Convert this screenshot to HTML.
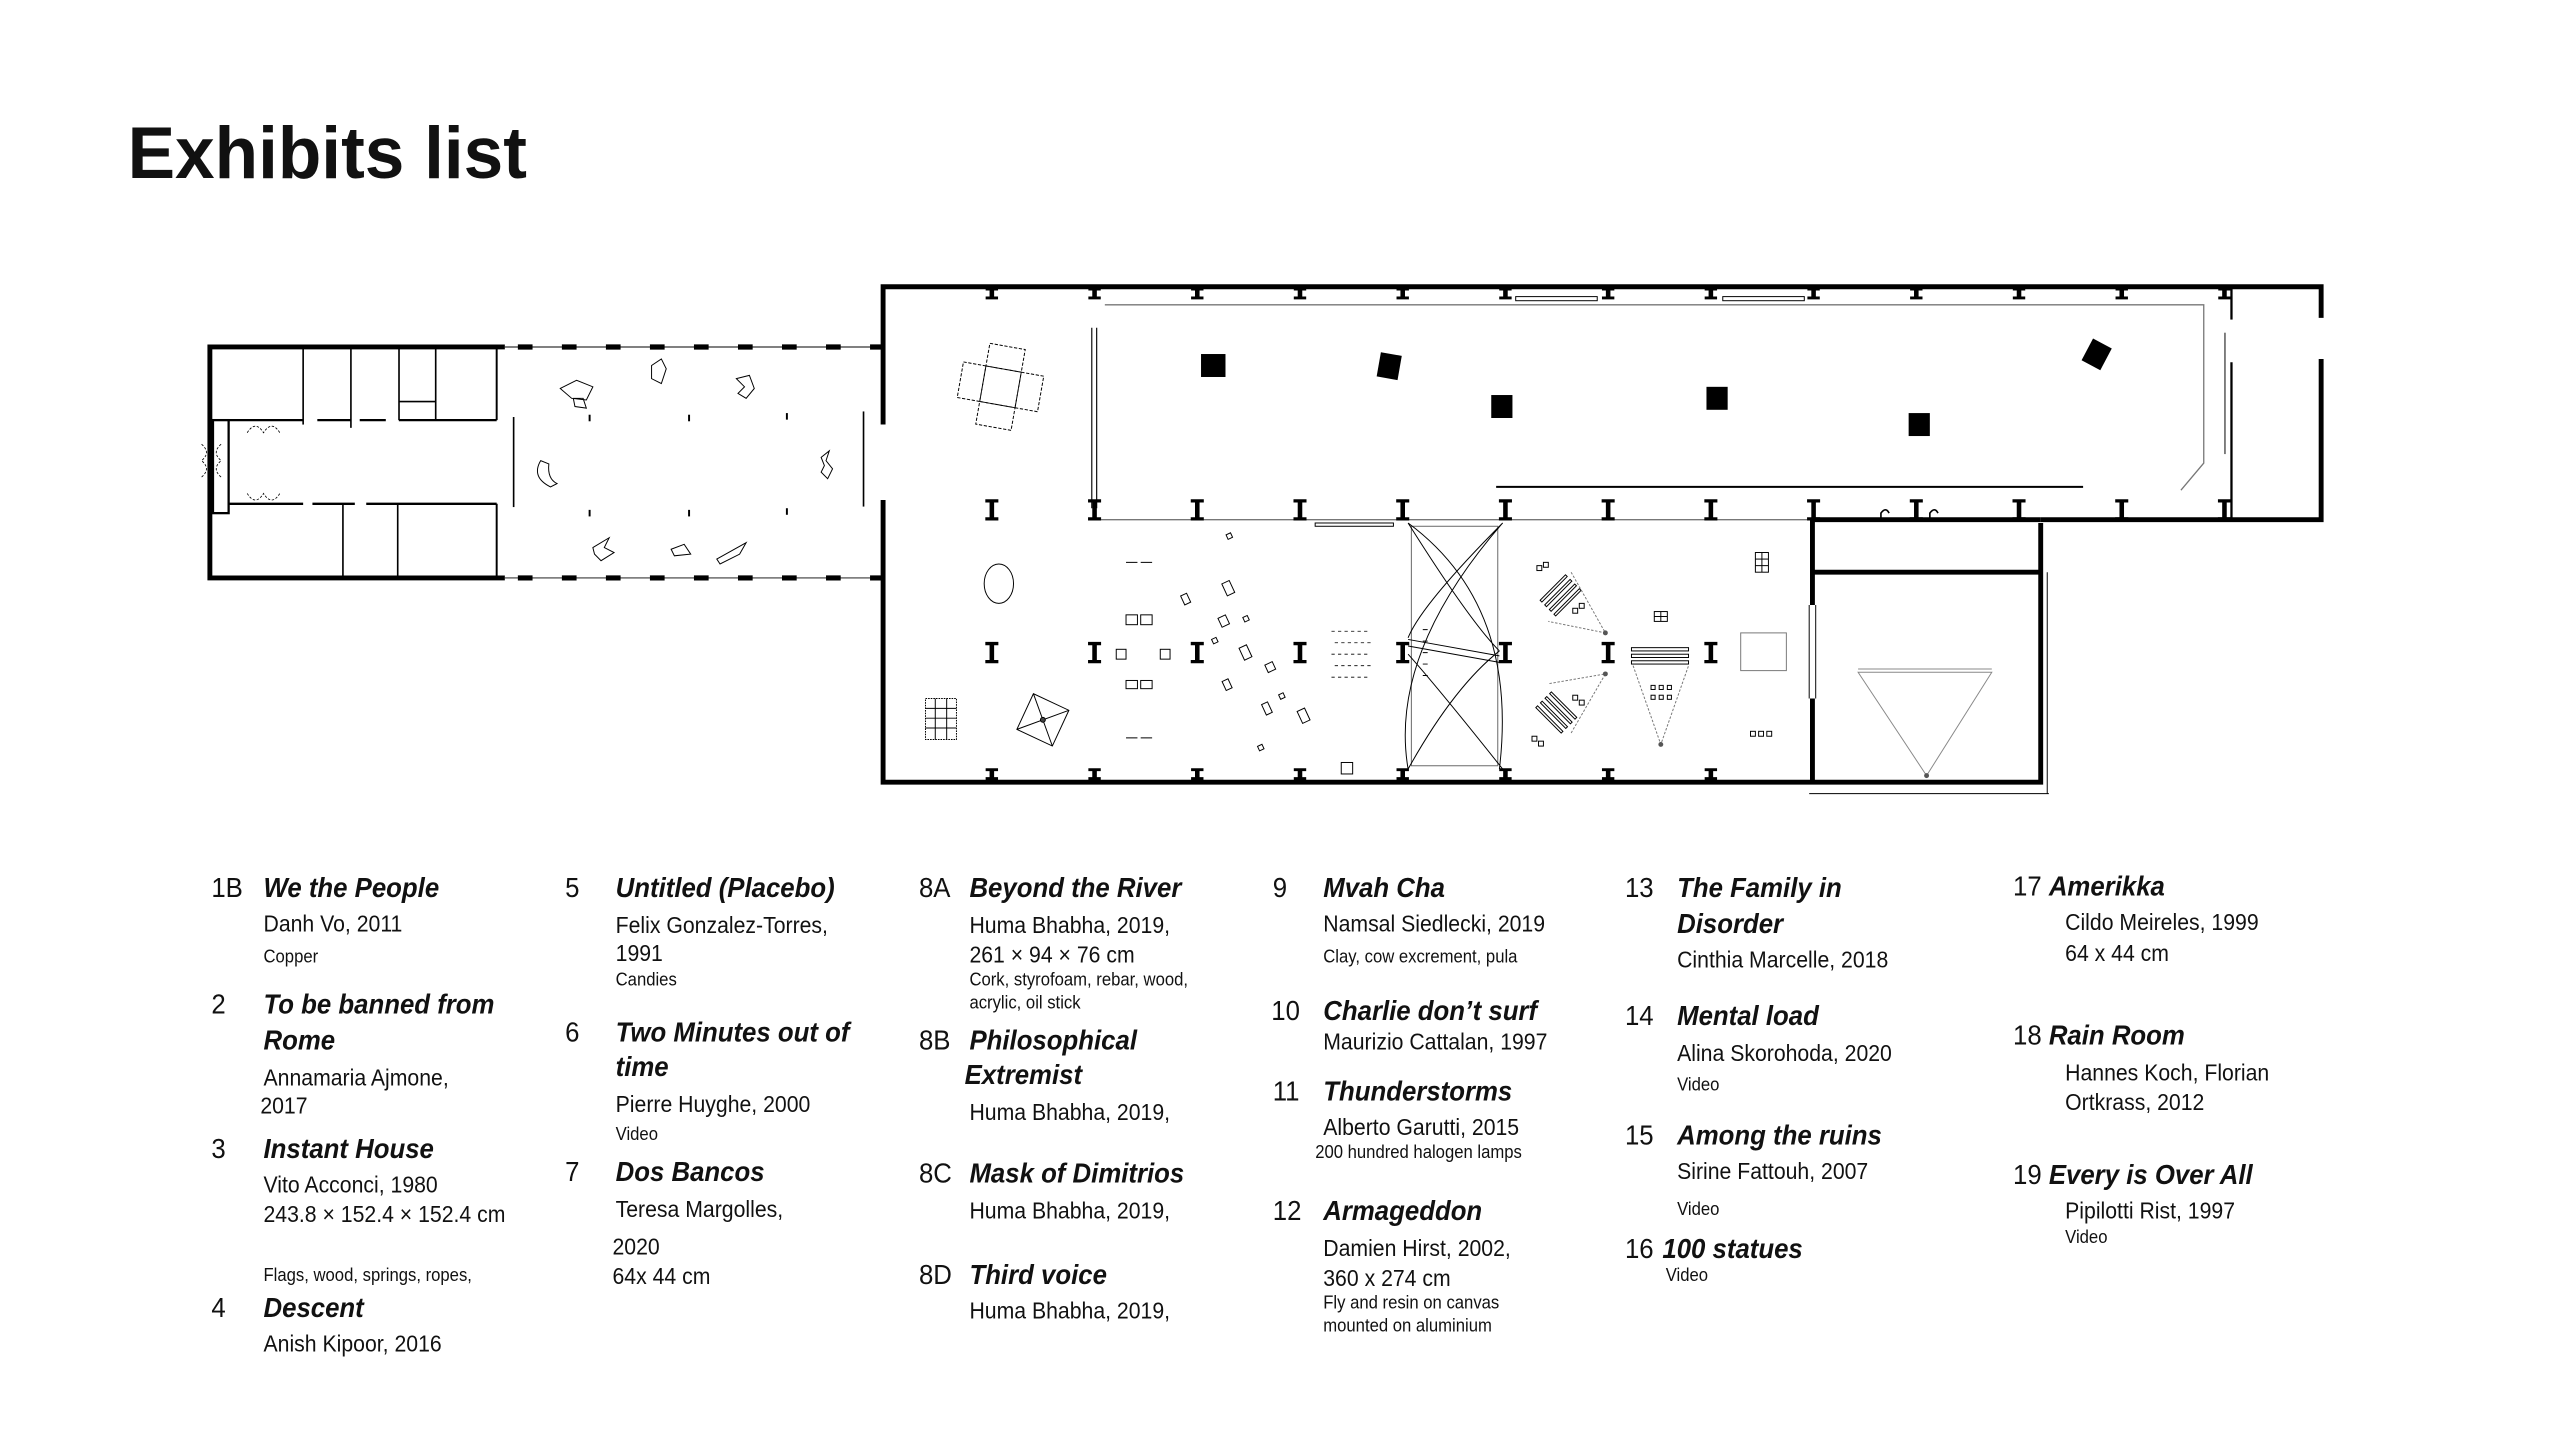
<!DOCTYPE html>
<html><head><meta charset="utf-8">
<style>
html,body{margin:0;padding:0;background:#fff;}
svg{display:block;}
text{font-family:"Liberation Sans",Arial,sans-serif;fill:#111;}
.t{font-weight:bold;font-style:italic;font-size:17px;}
.n{font-size:17px;}
.b{font-size:14px;}
.s{font-size:11px;}
</style></head>
<body>
<svg width="2560" height="1439" viewBox="0 0 1545 868.4" xmlns="http://www.w3.org/2000/svg">
<defs>
<path id="ib" d="M-4,-6.5 h8 v2 h-2.6 v9 h2.6 v2 h-8 v-2 h2.6 v-9 h-2.6 z" fill="#000"/>
<path id="ih" d="M-3.8,-1.5 h7.6 v1.8 h-2.4 v3.6 h2.4 v1.8 h-7.6 v-1.8 h2.4 v-3.6 h-2.4 z" fill="#000"/>
</defs>
<text x="77" y="107.5" font-weight="bold" font-size="44.5" textLength="241" lengthAdjust="spacingAndGlyphs">Exhibits list</text>

<g transform="matrix(0.984 0 0 0.99 1.6 -1.2)">
<!-- LEFT BUILDING -->
<g fill="none" stroke="#000">
<path d="M308,212.7 H127.1 V353.5 H308" stroke-width="3"/>
<line x1="308" y1="212.7" x2="540" y2="212.7" stroke-width="0.6"/>
<line x1="308" y1="212.7" x2="540" y2="212.7" stroke-width="3.2" stroke-dasharray="0,8,9,10"/>
<line x1="308" y1="353.5" x2="540" y2="353.5" stroke-width="0.6"/>
<line x1="308" y1="353.5" x2="540" y2="353.5" stroke-width="3.2" stroke-dasharray="0,8,9,10"/>
<line x1="303" y1="212.7" x2="303" y2="257.3" stroke-width="1.2"/>
<line x1="303" y1="308.3" x2="303" y2="353.5" stroke-width="1.2"/>
<line x1="184.3" y1="212.7" x2="184.3" y2="260" stroke-width="1"/>
<line x1="213.6" y1="212.7" x2="213.6" y2="262" stroke-width="1"/>
<line x1="243.1" y1="212.7" x2="243.1" y2="257.3" stroke-width="1"/>
<line x1="265.6" y1="212.7" x2="265.6" y2="257.3" stroke-width="1"/>
<line x1="243.1" y1="246" x2="265.6" y2="246" stroke-width="1"/>
<path d="M138.6,257.3 H184.3 M193,257.3 H213.6 M219,257.3 H235 M243,257.3 H303" stroke-width="1.4"/>
<path d="M138.6,308.3 H184.3 M190,308.3 H216 M223,308.3 H303" stroke-width="1.4"/>
<line x1="208.7" y1="308.3" x2="208.7" y2="353.5" stroke-width="1"/>
<line x1="242.3" y1="308.3" x2="242.3" y2="353.5" stroke-width="1"/>
<rect x="129" y="257.3" width="9.6" height="56.7" stroke-width="1.4"/>
<line x1="313.4" y1="255.4" x2="313.4" y2="310.3" stroke-width="1"/>
<line x1="528" y1="252" x2="528" y2="310" stroke-width="1"/>
<g stroke-width="0.5" stroke-dasharray="1.5,1">
<path d="M150,265 q5,-8 10,0 q5,-8 10,0"/><path d="M150,302 q5,8 10,0 q5,8 10,0"/>
<path d="M122,272 q6,5 0,10 q6,5 0,10"/><path d="M134,272 q-6,5 0,10 q-6,5 0,10"/>
</g>
<g stroke-width="1.2"><line x1="360" y1="254" x2="360" y2="258"/><line x1="421" y1="254" x2="421" y2="258"/><line x1="481" y1="253" x2="481" y2="257"/>
<line x1="360" y1="312" x2="360" y2="316"/><line x1="421" y1="312" x2="421" y2="316"/><line x1="481" y1="311" x2="481" y2="315"/></g>
<g stroke-width="0.6">
<path d="M342,238 l10,-5 l10,4 l-4,8 l-9,-1 z M350,244 l6,0 l2,6 l-7,-1z"/>
<path d="M398,224 l6,-4 l3,6 l-3,9 l-6,-3 z"/>
<path d="M450,232 l8,-2 l3,8 l-5,6 l-5,-3 l4,-4 z"/>
<path d="M330,282 q-6,10 6,16 l4,-2 q-6,-3 -5,-12z"/>
<path d="M502,280 l5,-4 l-2,6 l4,5 l-3,6 l-4,-4 l2,-4z"/>
<path d="M362,335 l10,-6 l-3,6 l6,3 l-8,5 l-4,-4z"/>
<path d="M410,336 l8,-3 l4,6 l-10,1z"/>
<path d="M438,342 l18,-10 l-4,7 l-12,6z"/>
</g>
</g>

<g fill="none" stroke="#000" stroke-width="3">
<path d="M540,260 V176 H1422 V195 M1422,220 V318 H1250 M1250,320 V478 H540 V306"/>
<line x1="1110" y1="318" x2="1250" y2="318"/>
<line x1="1110" y1="318" x2="1110" y2="370"/>
<line x1="1110" y1="427" x2="1110" y2="478"/>
<line x1="1110" y1="350" x2="1250" y2="350"/>
</g>
<g fill="none" stroke="#000">
<line x1="1108" y1="370" x2="1108" y2="427" stroke-width="0.6"/><line x1="1112" y1="370" x2="1112" y2="427" stroke-width="0.6"/>
<line x1="1367" y1="176" x2="1367" y2="196" stroke-width="1.4"/>
<line x1="1367" y1="222" x2="1367" y2="318" stroke-width="1.4"/>
<line x1="1108" y1="485" x2="1255" y2="485" stroke-width="0.6"/>
<line x1="1254" y1="350" x2="1254" y2="485" stroke-width="0.6"/>
<path d="M676,187 H1350 V283.5 L1336,300" stroke="#777" stroke-width="0.8"/>
<line x1="668" y1="201" x2="668" y2="311" stroke-width="0.7"/><line x1="671" y1="201" x2="671" y2="311" stroke-width="0.7"/>
<line x1="1363" y1="204" x2="1363" y2="278" stroke="#666" stroke-width="1"/>
<line x1="916" y1="298" x2="1276" y2="298" stroke-width="1.2"/>
<line x1="672" y1="318" x2="1110" y2="318" stroke="#777" stroke-width="0.8"/>
<rect x="928" y="182" width="50" height="2.5" stroke-width="0.6"/>
<rect x="1055" y="182" width="50" height="2.5" stroke-width="0.6"/>
<rect x="805" y="320" width="48" height="2" stroke-width="0.6"/>
<path d="M1152,318 v-4 q3,-4 5,0 M1182,318 v-4 q3,-4 5,0" stroke-width="1"/>
</g>
<g fill="#000">
<rect x="735" y="217" width="15" height="14"/>
<rect x="844" y="217" width="13" height="15" transform="rotate(10 851 224)"/>
<rect x="913" y="242" width="13" height="14"/>
<rect x="1045" y="237" width="13" height="14"/>
<rect x="1169" y="253" width="13" height="14"/>
<rect x="1278" y="210" width="13" height="15" transform="rotate(28 1285 217)"/>
</g>
<g>
<use href="#ih" x="606.7" y="178"/><use href="#ih" x="669.7" y="178"/><use href="#ih" x="732.7" y="178"/><use href="#ih" x="795.7" y="178"/><use href="#ih" x="858.7" y="178"/><use href="#ih" x="921.7" y="178"/><use href="#ih" x="984.7" y="178"/><use href="#ih" x="1047.7" y="178"/><use href="#ih" x="1110.7" y="178"/><use href="#ih" x="1173.7" y="178"/><use href="#ih" x="1236.7" y="178"/><use href="#ih" x="1299.7" y="178"/><use href="#ih" x="1362.7" y="178"/>
<use href="#ib" x="606.7" y="312"/><use href="#ib" x="669.7" y="312"/><use href="#ib" x="732.7" y="312"/><use href="#ib" x="795.7" y="312"/><use href="#ib" x="858.7" y="312"/><use href="#ib" x="921.7" y="312"/><use href="#ib" x="984.7" y="312"/><use href="#ib" x="1047.7" y="312"/><use href="#ib" x="1110.7" y="312"/><use href="#ib" x="1173.7" y="312"/><use href="#ib" x="1236.7" y="312"/><use href="#ib" x="1299.7" y="312"/><use href="#ib" x="1362.7" y="312"/>
<use href="#ib" x="606.7" y="399"/><use href="#ib" x="669.7" y="399"/><use href="#ib" x="732.7" y="399"/><use href="#ib" x="795.7" y="399"/><use href="#ib" x="858.7" y="399"/><use href="#ib" x="921.7" y="399"/><use href="#ib" x="984.7" y="399"/><use href="#ib" x="1047.7" y="399"/>
<use href="#ih" x="606.7" y="471"/><use href="#ih" x="669.7" y="471"/><use href="#ih" x="732.7" y="471"/><use href="#ih" x="795.7" y="471"/><use href="#ih" x="858.7" y="471"/><use href="#ih" x="921.7" y="471"/><use href="#ih" x="984.7" y="471"/><use href="#ih" x="1047.7" y="471"/>
</g>
<g fill="none" stroke="#000" stroke-width="0.6">
<g stroke-dasharray="2,1" transform="rotate(10 612 237)">
<rect x="601" y="226" width="22" height="22"/><rect x="601" y="212" width="22" height="14"/><rect x="601" y="248" width="22" height="14"/><rect x="587" y="226" width="14" height="22"/><rect x="623" y="226" width="14" height="22"/></g>
<ellipse cx="611" cy="357" rx="9" ry="12"/>
<rect x="566" y="427" width="19" height="25" stroke-dasharray="1,0.6"/>
<line x1="566" y1="433" x2="585" y2="433"/><line x1="566" y1="439" x2="585" y2="439"/><line x1="566" y1="445" x2="585" y2="445"/><line x1="572" y1="427" x2="572" y2="452"/><line x1="579" y1="427" x2="579" y2="452"/>
<g transform="rotate(25 638 440)"><rect x="626" y="428" width="24" height="24"/><path d="M626,428 L650,452 M650,428 L626,452"/></g>
<circle cx="638" cy="440" r="1.5" fill="#444"/>
<path d="M689,344 h7 M698,344 h7"/>
<rect x="689" y="376" width="7" height="6"/><rect x="698" y="376" width="7" height="6"/>
<rect x="683" y="397" width="6" height="6"/><rect x="710" y="397" width="6" height="6"/>
<rect x="689" y="416" width="7" height="5"/><rect x="698" y="416" width="7" height="5"/>
<path d="M689,451 h7 M698,451 h7"/>
<g transform="rotate(-25 760 400)">
<rect x="741" y="352" width="4" height="6"/><rect x="767" y="356" width="5" height="8"/><rect x="756" y="374" width="5" height="6"/><rect x="747" y="384" width="3" height="3"/><rect x="770" y="380" width="3" height="3"/><rect x="760" y="396" width="5" height="8"/><rect x="742" y="410" width="4" height="6"/><rect x="770" y="412" width="5" height="5"/><rect x="758" y="433" width="4" height="7"/><rect x="776" y="446" width="5" height="8"/><rect x="745" y="455" width="3" height="3"/><rect x="782" y="330" width="3" height="3"/><rect x="770" y="432" width="3" height="3"/></g>
<g stroke-width="0.5"><path d="M815,386 h24 M817,393 h22 M815,400 h24 M817,407 h22 M815,414 h24" stroke-dasharray="2,2"/></g>
<rect x="864" y="322" width="53" height="146" stroke="#666"/>
<path d="M862,320 Q930,370 918,470 M920,320 Q850,400 862,470 M862,320 Q900,380 918,398 M862,470 Q890,420 918,398 M920,320 Q870,370 862,390 M920,470 Q880,420 862,400 M862,395 L918,405 M862,391 L918,401"/>
<path d="M871,385 h3 M871,392 h3 M871,399 h3 M871,406 h3 M871,413 h3"/>
<g transform="rotate(-45 955 365)"><rect x="945" y="358" width="22" height="1.5"/><rect x="945" y="362" width="22" height="1.5"/><rect x="945" y="366" width="22" height="1.5"/><rect x="945" y="370" width="22" height="1.5"/></g>
<g transform="rotate(45 952 435)"><rect x="942" y="428" width="22" height="1.5"/><rect x="942" y="432" width="22" height="1.5"/><rect x="942" y="436" width="22" height="1.5"/><rect x="942" y="440" width="22" height="1.5"/></g>
<path d="M962,350 L983,387 L948,380 M962,448 L983,412 L948,418" stroke="#777" stroke-dasharray="1.5,1"/>
<rect x="941" y="346" width="3" height="3"/><rect x="945" y="344" width="3" height="3"/><rect x="963" y="372" width="3" height="3"/><rect x="967" y="369" width="3" height="3"/><rect x="963" y="425" width="3" height="3"/><rect x="967" y="428" width="3" height="3"/><rect x="938" y="450" width="3" height="3"/><rect x="942" y="453" width="3" height="3"/>
<rect x="999" y="396" width="35" height="2"/><rect x="999" y="400" width="35" height="2"/><rect x="999" y="404" width="35" height="2"/>
<path d="M1000,407 L1017,455 L1034,407" stroke="#777" stroke-dasharray="1.5,1"/>
<rect x="1011" y="419" width="2.5" height="2.5"/><rect x="1016" y="419" width="2.5" height="2.5"/><rect x="1021" y="419" width="2.5" height="2.5"/><rect x="1011" y="425" width="2.5" height="2.5"/><rect x="1016" y="425" width="2.5" height="2.5"/><rect x="1021" y="425" width="2.5" height="2.5"/>
<rect x="1013" y="374" width="8" height="6"/><line x1="1017" y1="374" x2="1017" y2="380"/><line x1="1013" y1="377" x2="1021" y2="377"/>
<rect x="1075" y="338" width="8" height="12"/><line x1="1075" y1="342" x2="1083" y2="342"/><line x1="1075" y1="346" x2="1083" y2="346"/><line x1="1079" y1="338" x2="1079" y2="350"/>
<rect x="1066" y="387" width="28" height="23" stroke="#777"/>
<rect x="1072" y="447" width="3" height="3"/><rect x="1077" y="447" width="3" height="3"/><rect x="1082" y="447" width="3" height="3"/>
<rect x="821" y="466" width="7" height="7"/>
<path d="M1138,411 H1220 L1180,474 Z" stroke="#888"/>
<line x1="1138" y1="409" x2="1220" y2="409" stroke="#888"/>
</g>
<g fill="#555"><circle cx="983" cy="387" r="1.5"/><circle cx="983" cy="412" r="1.5"/><circle cx="1017" cy="455" r="1.5"/><circle cx="1180" cy="474" r="1.5"/></g>

<g transform="translate(0,-2)">
<g transform="translate(128,0) scale(0.93,1)">
<text class="n" x="0" y="550">1B</text><text class="t" x="34.4" y="550">We the People</text>
<text class="b" x="34.4" y="571">Danh Vo, 2011</text><text class="s" x="34.4" y="590">Copper</text>
<text class="n" x="0" y="621">2</text><text class="t" x="34.4" y="621">To be banned from</text>
<text class="t" x="34.4" y="643">Rome</text>
<text class="b" x="34.4" y="665">Annamaria Ajmone,</text><text class="b" x="32.3" y="682">2017</text>
<text class="n" x="0" y="709">3</text><text class="t" x="34.4" y="709">Instant House</text>
<text class="b" x="34.4" y="730">Vito Acconci, 1980</text><text class="b" x="34.4" y="748">243.8 × 152.4 × 152.4  cm</text>
<text class="s" x="34.4" y="784">Flags, wood, springs, ropes,</text>
<text class="n" x="0" y="806">4</text><text class="t" x="34.4" y="806">Descent</text>
<text class="b" x="34.4" y="827">Anish Kipoor, 2016</text>
</g>
<g transform="translate(345,0) scale(0.93,1)">
<text class="n" x="0" y="550">5</text><text class="t" x="33.3" y="550">Untitled (Placebo)</text>
<text class="b" x="33.3" y="572">Felix Gonzalez-Torres,</text><text class="b" x="33.3" y="589">1991</text>
<text class="s" x="33.3" y="604">Candies</text>
<text class="n" x="0" y="638">6</text><text class="t" x="33.3" y="638">Two Minutes out of</text>
<text class="t" x="33.3" y="659">time</text>
<text class="b" x="33.3" y="681">Pierre Huyghe, 2000</text><text class="s" x="33.3" y="698">Video</text>
<text class="n" x="0" y="723">7</text><text class="t" x="33.3" y="723">Dos Bancos</text>
<text class="b" x="33.3" y="745">Teresa Margolles,</text><text class="b" x="31.2" y="768">2020</text>
<text class="b" x="31.2" y="786">64x 44 cm</text>
</g>
<g transform="translate(562,0) scale(0.93,1)">
<text class="n" x="0" y="550">8A</text><text class="t" x="33.3" y="550">Beyond the River</text>
<text class="b" x="33.3" y="572">Huma Bhabha, 2019,</text><text class="b" x="33.3" y="590">261 × 94 × 76 cm</text>
<text class="s" x="33.3" y="604">Cork, styrofoam, rebar, wood,</text><text class="s" x="33.3" y="618">acrylic, oil stick</text>
<text class="n" x="0" y="643">8B</text><text class="t" x="33.3" y="643">Philosophical</text>
<text class="t" x="30.1" y="664">Extremist</text>
<text class="b" x="33.3" y="686">Huma Bhabha, 2019,</text>
<text class="n" x="0" y="724">8C</text><text class="t" x="33.3" y="724">Mask of Dimitrios</text>
<text class="b" x="33.3" y="746">Huma Bhabha, 2019,</text>
<text class="n" x="0" y="786">8D</text><text class="t" x="33.3" y="786">Third voice</text>
<text class="b" x="33.3" y="807">Huma Bhabha, 2019,</text>
</g>
<g transform="translate(779,0) scale(0.93,1)">
<text class="n" x="0" y="550">9</text><text class="t" x="33.3" y="550">Mvah Cha</text>
<text class="b" x="33.3" y="571">Namsal Siedlecki, 2019</text><text class="s" x="33.3" y="590">Clay, cow excrement, pula</text>
<text class="n" x="-1" y="625">10</text><text class="t" x="33.3" y="625">Charlie don’t surf</text>
<text class="b" x="33.3" y="643">Maurizio Cattalan, 1997</text>
<text class="n" x="0" y="674">11</text><text class="t" x="33.3" y="674">Thunderstorms</text>
<text class="b" x="33.3" y="695">Alberto Garutti, 2015</text><text class="s" x="28" y="709">200 hundred halogen lamps</text>
<text class="n" x="0" y="747">12</text><text class="t" x="33.3" y="747">Armageddon</text>
<text class="b" x="33.3" y="769">Damien Hirst, 2002,</text><text class="b" x="33.3" y="787">360 x 274 cm</text>
<text class="s" x="33.3" y="801">Fly and resin on canvas</text><text class="s" x="33.3" y="815">mounted on aluminium</text>
</g>
<g transform="translate(995,0) scale(0.93,1)">
<text class="n" x="0" y="550">13</text><text class="t" x="34.4" y="550">The Family in</text>
<text class="t" x="34.4" y="572">Disorder</text>
<text class="b" x="34.4" y="593">Cinthia Marcelle, 2018</text>
<text class="n" x="0" y="628">14</text><text class="t" x="34.4" y="628">Mental load</text>
<text class="b" x="34.4" y="650">Alina Skorohoda, 2020</text><text class="s" x="34.4" y="668">Video</text>
<text class="n" x="0" y="701">15</text><text class="t" x="34.4" y="701">Among the ruins</text>
<text class="b" x="34.4" y="722">Sirine Fattouh, 2007</text><text class="s" x="34.4" y="744">Video</text>
<text class="n" x="0" y="770">16</text><text class="t" x="24.7" y="770">100 statues</text>
<text class="s" x="26.9" y="784">Video</text>
</g>
<g transform="translate(1233,0) scale(0.93,1)">
<text x="0" y="549"><tspan class="n">17 </tspan><tspan class="t">Amerikka</tspan></text>
<text class="b" x="34.4" y="570">Cildo Meireles, 1999</text><text class="b" x="34.4" y="589">64 x 44 cm</text>
<text x="0" y="640"><tspan class="n">18 </tspan><tspan class="t">Rain Room</tspan></text>
<text class="b" x="34.4" y="662">Hannes Koch, Florian</text><text class="b" x="34.4" y="680">Ortkrass, 2012</text>
<text x="0" y="725"><tspan class="n">19 </tspan><tspan class="t">Every is Over All</tspan></text>
<text class="b" x="34.4" y="746">Pipilotti Rist, 1997</text><text class="s" x="34.4" y="761">Video</text>
</g>
</g>
</g>
</svg>
</body></html>
